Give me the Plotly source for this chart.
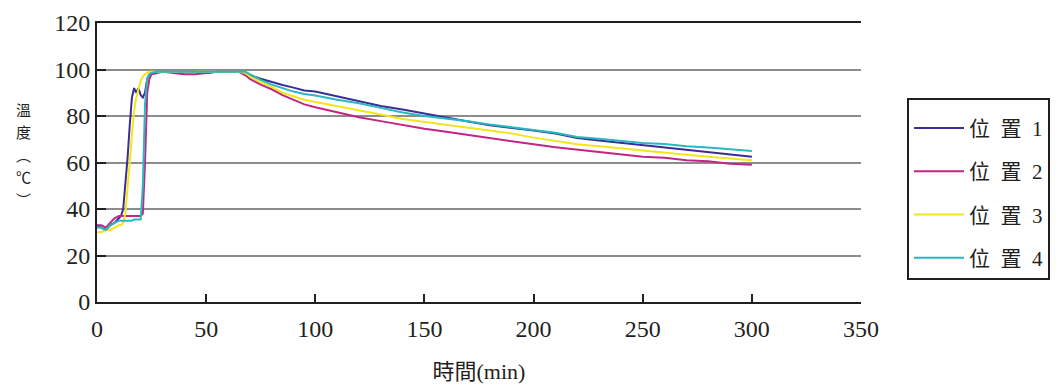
import plotly.graph_objects as go

time_min = [0, 2, 4, 6, 8, 10, 11, 12, 13, 14, 15, 16, 17, 18, 19, 20, 21, 22, 23, 24, 25, 27, 30,
            35, 40, 45, 50, 55, 60, 65, 68, 70, 75, 80, 85, 90, 95, 100, 110, 120, 130, 140, 150,
            160, 170, 180, 190, 200, 210, 220, 230, 240, 250, 260, 270, 280, 290, 300]

pos1 = [33, 32, 31, 33, 34, 36, 37, 40, 50, 62, 76, 88, 92, 90, 92, 89, 88, 90, 96, 98, 98.5, 99, 99,
        99, 99, 99, 98.5, 99, 99, 99, 98.6, 97.5, 96, 94.5, 93.3, 92.2, 91, 90.5, 88.5, 86.5, 84.3, 82.8, 81,
        79.5, 77.6, 76, 75, 73.8, 72.5, 70.5, 69.5, 68.5, 67.5, 66.5, 65.5, 64.8, 63.5, 62.5]

pos2 = [33, 33, 32, 34, 36, 37, 37, 37, 37, 37, 37, 37, 37, 37, 37, 37, 38, 60, 90, 96, 98, 98.5, 99,
        98.5, 98, 98, 98.5, 99, 99, 99, 97.5, 96, 93.5, 91.5, 89, 87, 85, 83.8, 81.5, 79.5, 77.8, 76, 74.5,
        73.2, 71.8, 70.5, 69.2, 67.8, 66.6, 65.5, 64.5, 63.5, 62.5, 62, 61, 60.5, 59.5, 59]

pos3 = [30, 30, 31, 31, 32, 33, 33, 34, 38, 48, 60, 72, 82, 88, 92, 95, 97, 98, 98.5, 99, 99, 99, 99,
        99, 99, 99, 99, 99, 99, 99, 98.5, 97, 94.5, 92.5, 90, 88.5, 87, 86, 84.3, 82.5, 80.6, 78.7, 77.5,
        76, 74.8, 73.7, 72.5, 70.7, 69.4, 67.8, 67, 66, 65, 64.3, 63.3, 62.5, 61.8, 61]

pos4 = [32, 32, 31, 33, 34, 35, 35, 35, 35, 35, 35, 35, 35.5, 35.5, 35.5, 35.5, 50, 85, 96, 98, 98.5, 99, 99,
        99, 99, 99, 99, 99, 99, 99, 99, 98, 95.5, 93.5, 92, 90.5, 89.5, 88.8, 87, 85.5, 83.5, 81.5, 80,
        79, 77.7, 76.3, 75, 74, 72.8, 71, 70.2, 69.3, 68.4, 68, 67, 66.5, 65.6, 65]

series_names = ["位\u2002置\u20021", "位\u2002置\u20022", "位\u2002置\u20023", "位\u2002置\u20024"]
series_values = [pos1, pos2, pos3, pos4]
series_colors = ["#3a2e96", "#c22584", "#f2e61a", "#2ab8c0"]

x_ticks = [0, 50, 100, 150, 200, 250, 300, 350]
y_ticks = [0, 20, 40, 60, 80, 100, 120]

x_title = "時間(min)"
y_title_chars = ["溫", "度", "︵", "℃", "︶"]

FONT = "Liberation Serif, Noto Sans CJK TC, serif"
INK = "#231f20"

fig = go.Figure()
for i, (name, vals, col) in enumerate(zip(series_names, series_values, series_colors)):
    fig.add_trace(go.Scatter(x=time_min, y=vals, mode="lines", name=name,
                             line=dict(color=col, width=2), legendgroup=f"g{i}"))

# page body adds an 8px offset; plot area on screen: x 97..861, y 23..302
L, T, PW, PH = 89, 15, 764, 279
fig.update_layout(
    width=1059, height=385,
    margin=dict(l=L, r=1059 - L - PW, t=T, b=385 - T - PH, autoexpand=False),
    paper_bgcolor="white", plot_bgcolor="white",
    font=dict(family=FONT, color=INK, size=24),
    showlegend=True,
    legend=dict(x=(907 - 97) / PW, y=(302 - 98) / PH, xanchor="left", yanchor="top",
                bordercolor=INK, borderwidth=2, bgcolor="white",
                font=dict(family=FONT, size=21, color=INK),
                title=dict(text="\u2003", font=dict(size=6)),
                traceorder="grouped", tracegroupgap=13, itemwidth=50),
    xaxis=dict(range=[0, 350], tickvals=x_ticks, showgrid=False, zeroline=False,
               showline=True, linecolor=INK, linewidth=2, mirror=True,
               ticks="inside", ticklen=8, tickwidth=1.5, tickcolor=INK, ticklabelstandoff=4,
               title=dict(text=x_title, font=dict(family=FONT, size=22), standoff=23)),
    yaxis=dict(range=[0, 120], tickvals=y_ticks, showgrid=True, gridcolor="#8c8c8c", gridwidth=1.5,
               zeroline=False, showline=True, linecolor=INK, linewidth=2,
               ticks="inside", ticklen=9, tickwidth=1.5, tickcolor=INK),
)

# vertical y-axis title, one character per annotation
y_centers = [109, 131.5, 154, 176.5, 199]
for ch, yc in zip(y_title_chars, y_centers):
    fig.add_annotation(x=(23 - 97) / PW, y=(302 - yc) / PH, xref="paper", yref="paper",
                       xanchor="center", yanchor="middle", borderpad=0,
                       text=ch, showarrow=False,
                       font=dict(family="Noto Sans CJK TC", size=15, color=INK))

fig.write_html("out.html")
